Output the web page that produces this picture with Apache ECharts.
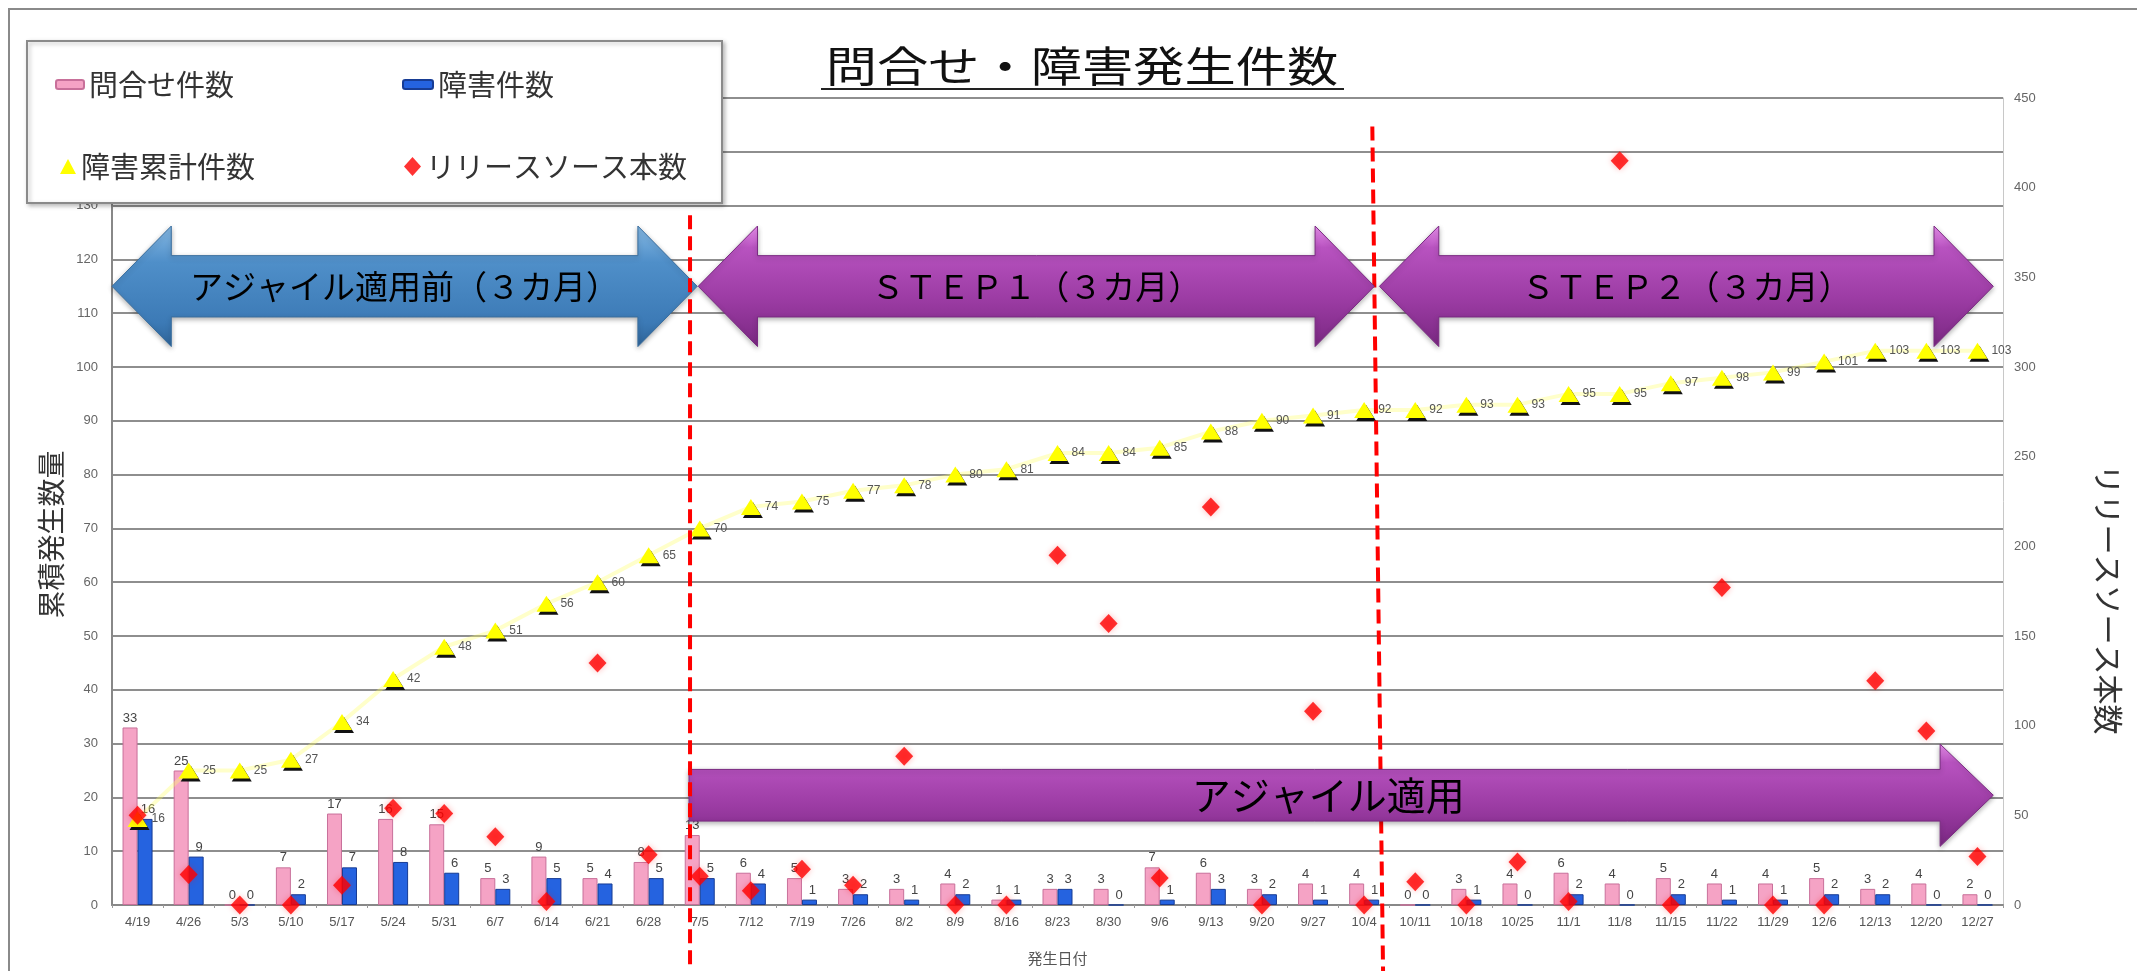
<!DOCTYPE html>
<html>
<head>
<meta charset="utf-8">
<title>問合せ・障害発生件数</title>
<script src="https://cdn.jsdelivr.net/npm/echarts@6/dist/echarts.min.js"></script>
<style>
  html, body { margin: 0; padding: 0; background: #ffffff; }
  #chart { width: 2137px; height: 971px; }
</style>
</head>
<body>
<div id="chart"></div>
<script>
// Weekly dates (発生日付)
const categories = ['4/19','4/26','5/3','5/10','5/17','5/24','5/31','6/7','6/14','6/21','6/28',
  '7/5','7/12','7/19','7/26','8/2','8/9','8/16','8/23','8/30','9/6','9/13','9/20','9/27','10/4',
  '10/11','10/18','10/25','11/1','11/8','11/15','11/22','11/29','12/6','12/13','12/20','12/27'];

// 問合せ件数 (weekly inquiries)
const inquiryCounts = [33,25,0,7,17,16,15,5,9,5,8,
  13,6,5,3,3,4,1,3,3,7,6,3,4,4,
  0,3,4,6,4,5,4,4,5,3,4,2];

// 障害件数 (weekly incidents)
const incidentCounts = [16,9,0,2,7,8,6,3,5,4,5,
  5,4,1,2,1,2,1,3,0,1,3,2,1,1,
  0,1,0,2,0,2,1,1,2,2,0,0];

// 障害累計件数 (cumulative incidents)
const cumulativeIncidents = [16,25,25,27,34,42,48,51,56,60,65,
  70,74,75,77,78,80,81,84,84,85,88,90,91,92,
  92,93,93,95,95,97,98,99,101,103,103,103];

// リリースソース本数 (released sources, right axis)
const releaseSources = [50,17,0,0,11,54,51,38,2,135,28,
  16,8,20,11,83,0,0,195,157,15,222,0,108,0,
  13,0,24,2,415,0,177,0,0,125,97,27];

// Axis ranges
const leftAxisRange = { min: 0, max: 150, interval: 10 };
const rightAxisRange = { min: 0, max: 450, interval: 50 };

const JP = '"Noto Sans CJK JP", "Noto Sans", sans-serif';
const NUM = '"Liberation Sans", "DejaVu Sans", sans-serif';

const chart = echarts.init(document.getElementById('chart'), null, { renderer: 'canvas' });

const legendText = { fontSize: 29, color: '#333', fontFamily: JP };

const option = {
  animation: false,
  backgroundColor: '#ffffff',
  grid: { left: 112, right: 134, top: 98, bottom: 58, containLabel: false },
  legend: [
    { data: ['問合せ件数'], left: 55, top: 70, padding: 0, itemWidth: 28, itemHeight: 9, textStyle: legendText, z: 120 },
    { data: ['障害件数'], left: 402, top: 70, padding: 0, itemWidth: 30, itemHeight: 9, textStyle: legendText, z: 120 },
    { data: [{ name: '障害累計件数', icon: 'triangle' }], left: 60, top: 152, padding: 0, itemWidth: 16, itemHeight: 15, textStyle: legendText, z: 120 },
    { data: [{ name: 'リリースソース本数', icon: 'diamond' }], left: 404, top: 152, padding: 0, itemWidth: 17, itemHeight: 19, textStyle: legendText, z: 120 }
  ],
  xAxis: {
    type: 'category',
    data: categories,
    name: '発生日付',
    nameLocation: 'middle',
    nameGap: 46,
    nameTextStyle: { fontSize: 15, color: '#555', fontFamily: JP },
    axisLine: { lineStyle: { color: '#888', width: 2 } },
    axisTick: { show: true, length: 3, lineStyle: { color: '#999' } },
    axisLabel: { interval: 0, fontSize: 13, color: '#555', margin: 11, fontFamily: NUM }
  },
  yAxis: [
    {
      type: 'value', position: 'left',
      min: leftAxisRange.min, max: leftAxisRange.max, interval: leftAxisRange.interval,
      name: '累積発生数量',
      nameLocation: 'middle', nameRotate: 90, nameGap: 26,
      nameTextStyle: { fontSize: 28, color: '#333', fontFamily: JP, padding: [0, 66, 0, 0] },
      axisLine: { show: true, lineStyle: { color: '#888', width: 2 } },
      axisTick: { show: false },
      axisLabel: { fontSize: 13, color: '#666', margin: 14, fontFamily: NUM },
      splitLine: { show: true, lineStyle: { color: '#8e8e8e', width: 2 } }
    },
    {
      type: 'value', position: 'right',
      min: rightAxisRange.min, max: rightAxisRange.max, interval: rightAxisRange.interval,
      name: 'リリースソース本数',
      nameLocation: 'middle', nameRotate: -90, nameGap: 90,
      nameTextStyle: { fontSize: 30, color: '#333', fontFamily: JP, padding: [0, 0, 0, 196] },
      axisLine: { show: true, lineStyle: { color: '#c8c8c8', width: 1 } },
      axisTick: { show: false },
      axisLabel: { fontSize: 13, color: '#666', margin: 11, fontFamily: NUM },
      splitLine: { show: false }
    }
  ],
  series: [
    {
      name: '問合せ件数', type: 'bar', data: inquiryCounts,
      barWidth: 15, barGap: '0%',
      itemStyle: { color: '#F5A3C5', borderColor: '#C8709A', borderWidth: 1 },
      label: { show: true, position: 'top', distance: 3, fontSize: 13, color: '#444', fontFamily: NUM },
      z: 2
    },
    {
      name: '障害件数', type: 'bar', data: incidentCounts,
      barWidth: 15,
      itemStyle: { color: '#2563E0', borderColor: '#173C94', borderWidth: 1 },
      label: { show: true, position: 'top', distance: 3, offset: [3, 0], fontSize: 13, color: '#444', fontFamily: NUM },
      z: 2
    },
    {
      name: '障害累計件数', type: 'line', data: cumulativeIncidents,
      symbol: 'triangle', symbolSize: [20, 16],
      lineStyle: { color: '#FFFF66', width: 4, opacity: 0.35 },
      itemStyle: { color: '#FFFF00', shadowColor: '#111', shadowOffsetX: 2, shadowOffsetY: 3, shadowBlur: 0 },
      label: { show: true, position: 'right', distance: 4, fontSize: 12, color: '#555', fontFamily: NUM },
      z: 3
    },
    {
      name: 'リリースソース本数', type: 'scatter', yAxisIndex: 1, data: releaseSources,
      symbol: 'diamond', symbolSize: [18, 19],
      itemStyle: { color: '#FF0000', shadowColor: 'rgba(255,0,0,0.35)', shadowBlur: 6 },
      z: 4
    }
  ]
};

chart.setOption(option);

// ---- annotations placed in axis units (category bands / left-axis values) ----
const xPix = i => chart.convertToPixel({ xAxisIndex: 0 }, i);
const band = xPix(1) - xPix(0);
const gridX0 = xPix(0) - band / 2;
const ux = u => gridX0 + u * band;
const vy = v => chart.convertToPixel({ yAxisIndex: 0 }, v);

function doubleArrow(fromU, toU, midV, headHalf, bodyHalf, headLen) {
  const x1 = ux(fromU), x2 = ux(toU);
  const yc = vy(midV);
  const hh = vy(midV - headHalf) - yc;
  const bh = vy(midV - bodyHalf) - yc;
  const hl = headLen * band;
  return [
    [x1, yc], [x1 + hl, yc - hh], [x1 + hl, yc - bh], [x2 - hl, yc - bh], [x2 - hl, yc - hh],
    [x2, yc], [x2 - hl, yc + hh], [x2 - hl, yc + bh], [x1 + hl, yc + bh], [x1 + hl, yc + hh]
  ];
}

function singleArrow(fromU, toU, midV, headHalf, bodyHalf, headLen) {
  const x1 = ux(fromU), x2 = ux(toU);
  const yc = vy(midV);
  const hh = vy(midV - headHalf) - yc;
  const bh = vy(midV - bodyHalf) - yc;
  const hl = headLen * band;
  return [
    [x1, yc - bh], [x2 - hl, yc - bh], [x2 - hl, yc - hh], [x2, yc],
    [x2 - hl, yc + hh], [x2 - hl, yc + bh], [x1, yc + bh]
  ];
}

const blueFill = new echarts.graphic.LinearGradient(0, 0, 0, 1, [
  { offset: 0, color: '#86B9E4' }, { offset: 0.3, color: '#4F8FC9' },
  { offset: 0.8, color: '#3C7AB6' }, { offset: 1, color: '#2E6499' }
]);
const purpleFill = () => new echarts.graphic.LinearGradient(0, 0, 0, 1, [
  { offset: 0, color: '#EE92F2' }, { offset: 0.18, color: '#B853C0' },
  { offset: 0.6, color: '#9C3CA4' }, { offset: 1, color: '#7A2882' }
]);
const arrowShadow = { shadowBlur: 5, shadowColor: 'rgba(0,0,0,0.3)', shadowOffsetY: 2 };

const periods = [
  { text: 'アジャイル適用前（３カ月）', from: 0, to: 11.45, fill: blueFill, stroke: '#3A6E9E' },
  { text: 'ＳＴＥＰ１（３カ月）', from: 11.47, to: 24.7, fill: purpleFill(), stroke: '#7A2A82' },
  { text: 'ＳＴＥＰ２（３カ月）', from: 24.8, to: 36.81, fill: purpleFill(), stroke: '#7A2A82' }
];

const graphics = [];

// outer frame
graphics.push({
  type: 'rect', z: 0, silent: true,
  shape: { x: 9, y: 9, width: 2200, height: 1000 },
  style: { fill: 'none', stroke: '#8a8a8a', lineWidth: 2 }
});

// chart title with underline
graphics.push({
  type: 'text', z: 10, x: 1082, y: 66, scaleX: 1.22,
  style: { text: '問合せ・障害発生件数', font: '42px ' + JP, fill: '#111', align: 'center', verticalAlign: 'middle' }
});
graphics.push({
  type: 'line', z: 10, silent: true,
  shape: { x1: 821, y1: 89, x2: 1344, y2: 89 },
  style: { stroke: '#222', lineWidth: 2 }
});

// legend frame
graphics.push({
  type: 'rect', z: 100, silent: true,
  shape: { x: 27, y: 41, width: 695, height: 162 },
  style: { fill: '#ffffff', stroke: '#8a8a8a', lineWidth: 2, shadowBlur: 4, shadowOffsetX: 2, shadowOffsetY: 2, shadowColor: 'rgba(0,0,0,0.25)' }
});

// period arrows
periods.forEach(p => {
  graphics.push({
    type: 'polygon', z: 50, silent: true,
    shape: { points: doubleArrow(p.from, p.to, 115, 11.2, 5.7, 1.16) },
    style: Object.assign({ fill: p.fill, stroke: p.stroke, lineWidth: 1 }, arrowShadow)
  });
  graphics.push({
    type: 'text', z: 51, x: ux((p.from + p.to) / 2), y: vy(115),
    style: { text: p.text, font: '33px ' + JP, fill: '#000', align: 'center', verticalAlign: 'middle' }
  });
});

// agile-applied arrow along the bottom
graphics.push({
  type: 'polygon', z: 50, silent: true,
  shape: { points: singleArrow(11.29, 36.81, 20.4, 9.5, 4.8, 1.04) },
  style: Object.assign({ fill: purpleFill(), stroke: '#7A2A82', lineWidth: 1 }, arrowShadow)
});
graphics.push({
  type: 'text', z: 51, x: ux(23.8), y: vy(20.4),
  style: { text: 'アジャイル適用', font: '39px ' + JP, fill: '#000', align: 'center', verticalAlign: 'middle' }
});

// phase boundaries
const H = chart.getHeight();
graphics.push({
  type: 'line', z: 55, silent: true,
  shape: { x1: ux(11.31), y1: vy(128.2), x2: ux(11.31), y2: H },
  style: { stroke: '#FF0000', lineWidth: 4, lineDash: [14, 7] }
});
graphics.push({
  type: 'line', z: 45, silent: true,
  shape: { x1: ux(24.66), y1: vy(144.7), x2: ux(24.87), y2: H },
  style: { stroke: '#FF0000', lineWidth: 4, lineDash: [14, 7] }
});

chart.setOption({ graphic: { elements: graphics } });
</script>
</body>
</html>
